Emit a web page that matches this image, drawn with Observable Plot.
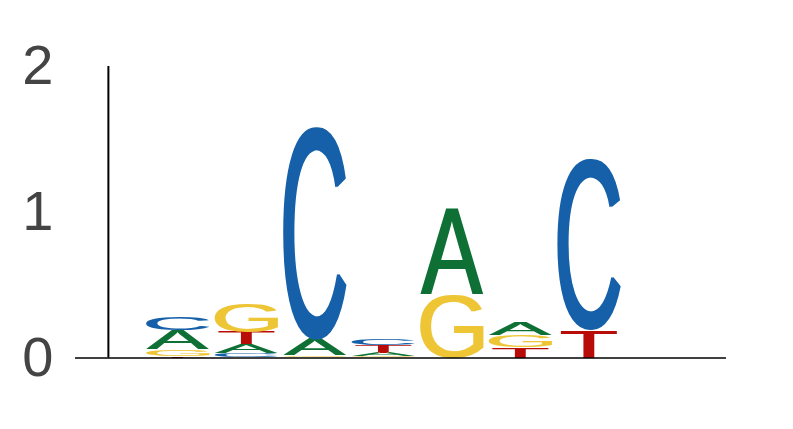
<!DOCTYPE html>
<html>
<head>
<meta charset="utf-8">
<script src="https://cdn.jsdelivr.net/npm/d3@7"></script>
<script src="https://cdn.jsdelivr.net/npm/@observablehq/plot@0.6"></script>
<style>
  body { margin: 0; background: #fff; }
</style>
</head>
<body>
<div id="chart"></div>
<script>
// sequence logo, one column per position, letters stacked bottom to top
const positions = [1, 2, 3, 4, 5, 6, 7];
const stackOrder = ["TGAC", "CATG", "TGAC", "GATC", "GA", "TGA", "TC"];
const A = [0.131, 0.063, 0.110, 0.022, 0.595, 0.091, 0];
const C = [0.089, 0.027, 1.460, 0.041, 0, 0, 1.178];
const G = [0.046, 0.197, 0.010, 0.008, 0.429, 0.080, 0];
const T = [0.012, 0.085, 0.003, 0.054, 0, 0.074, 0.189];
const yTicks = [0, 1, 2];

const colors = {A: "#0f7036", C: "#1560a9", G: "#eec535", T: "#b80c09"};
const heights = {A, C, G, T};
// T is drawn narrower than the other letters
const halfWidth = {A: 0.448, C: 0.448, G: 0.448, T: 0.397};

const glyphs = [];
positions.forEach((p, i) => {
  let base = 0;
  for (const letter of stackOrder[i]) {
    const h = heights[letter][i];
    if (h > 0) glyphs.push({position: p, letter, y1: base, y2: base + h});
    base += h;
  }
});

// ink box of each letter, so it can be stretched to fill its cell
const glyphSize = 200;
const ctx = document.createElement("canvas").getContext("2d");
ctx.font = `${glyphSize}px 'Liberation Sans'`;
const metrics = {};
for (const l of "ACGT") {
  const m = ctx.measureText(l);
  metrics[l] = {
    left: m.actualBoundingBoxLeft,
    right: m.actualBoundingBoxRight,
    ascent: m.actualBoundingBoxAscent,
    descent: m.actualBoundingBoxDescent
  };
}

function logoGlyphs(index, scales, values) {
  const g = d3.create("svg:g");
  // fatten the vertical stems only
  g.append("filter")
      .attr("id", "fat-stems")
      .attr("color-interpolation-filters", "sRGB")
    .append("feMorphology")
      .attr("operator", "dilate")
      .attr("radius", "1.3 0");
  const letters = g.append("g").attr("filter", "url(#fat-stems)");
  for (const i of index) {
    const d = glyphs[i];
    const m = metrics[d.letter];
    const x1 = values.x1[i], x2 = values.x2[i];
    const top = values.y2[i], bottom = values.y1[i];
    const sx = (x2 - x1) / (m.left + m.right);
    const sy = (bottom - top) / (m.ascent + m.descent);
    letters.append("text")
      .attr("font-family", "'Liberation Sans'")
      .attr("font-size", glyphSize)
      .attr("text-anchor", "start")
      .attr("fill", colors[d.letter])
      .attr("transform", `translate(${x1},${top}) scale(${sx},${sy}) translate(${m.left},${m.ascent})`)
      .text(d.letter);
  }
  return g.node();
}

const chart = Plot.plot({
  width: 793,
  height: 429,
  marginTop: 66,
  marginBottom: 71.5,
  marginLeft: 75,
  marginRight: 67,
  x: {domain: [-0.5, 9], axis: null},
  y: {
    domain: [0, 2],
    ticks: yTicks,
    tickSize: 0,
    tickPadding: 22,
    tickFormat: d3.format("d"),
    label: null
  },
  style: {
    fontFamily: "'Liberation Sans', Arial, sans-serif",
    fontSize: "56px",
    color: "#444",
    background: "#fff"
  },
  marks: [
    Plot.rect(glyphs, {
      x1: d => d.position - halfWidth[d.letter],
      x2: d => d.position + halfWidth[d.letter],
      y1: "y1",
      y2: "y2",
      render: logoGlyphs
    }),
    Plot.ruleX([-0.02], {y1: 0, y2: 2, stroke: "black", strokeWidth: 2}),
    Plot.ruleY([0], {x1: -0.5, x2: 9, stroke: "black", strokeWidth: 1.5})
  ]
});

d3.select("#chart").append(() => chart);
</script>
</body>
</html>
